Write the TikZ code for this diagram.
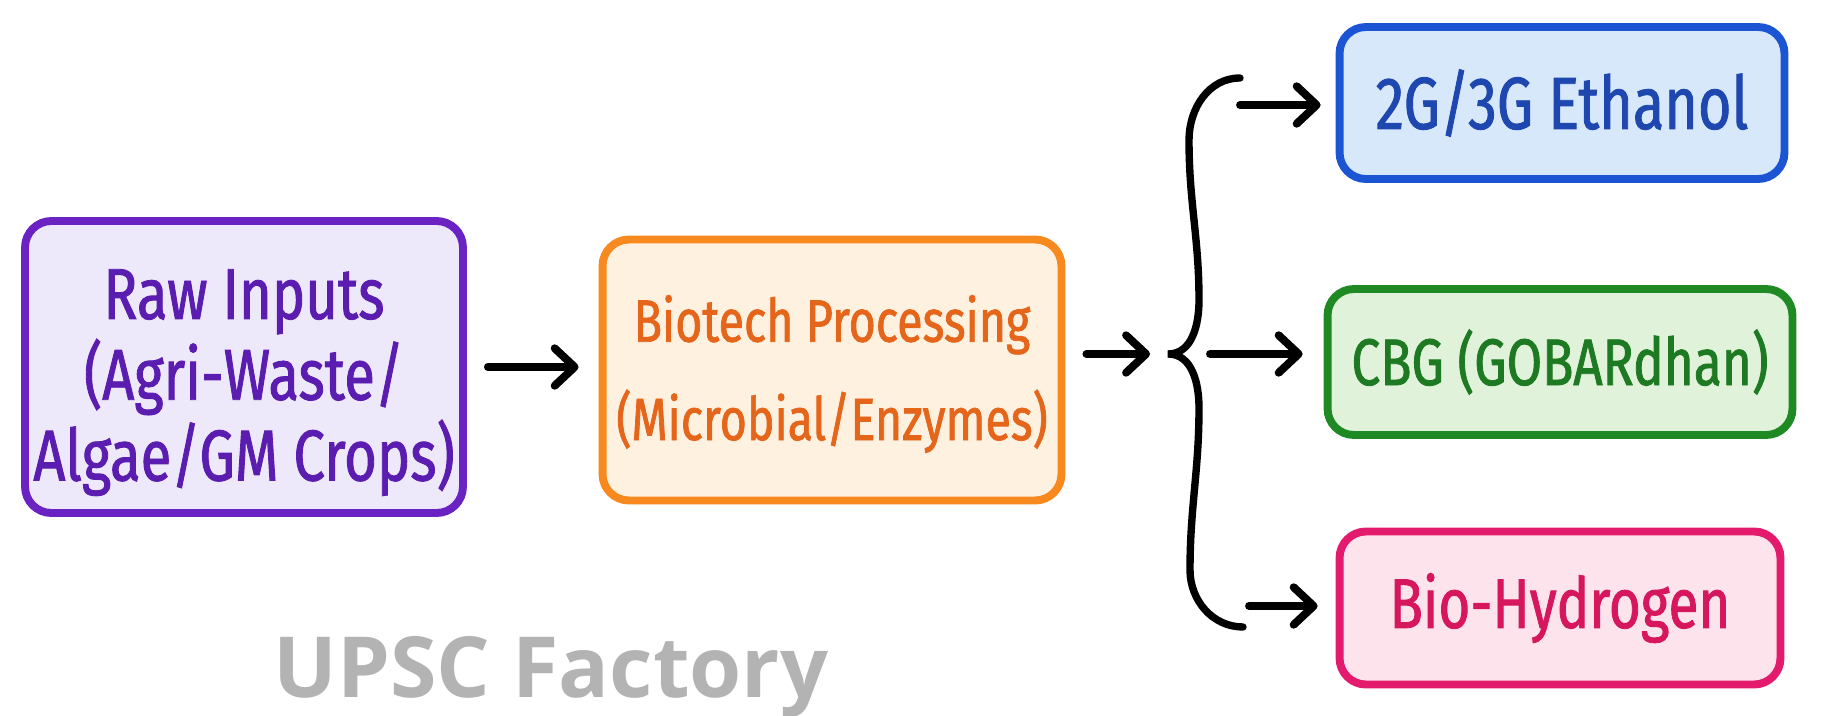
\documentclass[tikz,border=0pt]{standalone}
\usepackage{fontspec}
\usepackage{tikz}
\usetikzlibrary{arrows.meta,calc,positioning}
\newfontfamily\handfont[FakeStretch=0.78,FakeBold=1.2]{Fira Sans}
\newfontfamily\markfont{Open Sans}
\definecolor{rawline}{HTML}{6A22C2}
\definecolor{rawfill}{HTML}{EEE8FB}
\definecolor{rawtext}{HTML}{5A1DB0}
\definecolor{bioline}{HTML}{F7891F}
\definecolor{biofill}{HTML}{FFF1E0}
\definecolor{biotext}{HTML}{E5661B}
\definecolor{ethline}{HTML}{1C55D4}
\definecolor{ethfill}{HTML}{D8E8FB}
\definecolor{ethtext}{HTML}{1F47B0}
\definecolor{cbgline}{HTML}{1F8A23}
\definecolor{cbgfill}{HTML}{E0F2DA}
\definecolor{cbgtext}{HTML}{1E7A22}
\definecolor{hydline}{HTML}{E41B6C}
\definecolor{hydfill}{HTML}{FCE3EC}
\definecolor{hydtext}{HTML}{D6175D}
\definecolor{markgray}{HTML}{B3B3B3}

\begin{document}
\begin{tikzpicture}[
  x=0.02cm, y=0.02cm,
  box/.style={draw, line width=4.5pt, rounded corners=15pt, align=center, inner sep=0pt},
  rawbox/.style={box, draw=rawline, fill=rawfill, text=rawtext, minimum width=8.76cm, minimum height=5.84cm,
    font=\handfont\fontsize{41}{46}\selectfont},
  procbox/.style={box, draw=bioline, fill=biofill, text=biotext, minimum width=9.18cm, minimum height=5.22cm,
    font=\handfont\fontsize{34}{56}\selectfont},
  ethbox/.style={box, draw=ethline, fill=ethfill, text=ethtext, minimum width=8.9cm, minimum height=3.04cm,
    font=\handfont\fontsize{42}{46}\selectfont},
  cbgbox/.style={box, draw=cbgline, fill=cbgfill, text=cbgtext, minimum width=9.3cm, minimum height=2.92cm,
    font=\handfont\fontsize{37.5}{46}\selectfont},
  hydbox/.style={box, draw=hydline, fill=hydfill, text=hydtext, minimum width=8.82cm, minimum height=3.06cm,
    font=\handfont\fontsize{40}{46}\selectfont},
  arrow/.style={-{Straight Barb[length=4mm,width=7.5mm,round]}, line width=4.5pt, line cap=round, black},
  braceline/.style={line width=4.2pt, line cap=round, black},
  watermark/.style={font=\markfont\bfseries\fontsize{48}{48}\selectfont, text=markgray, inner sep=0pt}
]
\useasboundingbox[fill=white] (0,0) rectangle (1821,-716);

\node[rawbox] (inputs) at (244,-367) {\rule{0pt}{46pt}Raw Inputs\\(Agri-Waste/\\Algae/GM Crops)};
\node[procbox] (biotech) at (832,-370) {\rule{0pt}{31pt}Biotech Processing\\(Microbial/Enzymes)};
\node[ethbox] (ethanol) at (1562,-103) {2G/3G Ethanol};
\node[cbgbox] (cbg) at (1560,-362) {CBG (GOBARdhan)};
\node[hydbox] (hydrogen) at (1560,-608) {Bio-Hydrogen};
\node[watermark, anchor=base] (upsc) at (551,-697) {UPSC Factory};

\coordinate (tip) at (1168,-354);
\coordinate (btop) at (1240,-78);
\coordinate (bbot) at (1243,-627);
\coordinate (out1) at (1240,-105);
\coordinate (out2) at (1210,-354);
\coordinate (out3) at (1249,-606);

\draw[braceline] (btop) to[out=180,in=90] (1189,-140) to[out=-90,in=90] (1199,-300)
  to[out=-90,in=0] (tip) to[out=0,in=90] (1199,-408) to[out=-90,in=90] (1190,-570)
  to[out=-90,in=180] (bbot);

\draw[arrow, shorten <=0.42cm, shorten >=0.4cm] (inputs.east) -- (inputs.east -| biotech.west);
\draw[arrow, shorten <=0.42cm, shorten >=0.36cm] (biotech.east |- tip) -- (tip);
\draw[arrow, shorten >=0.3cm] (out1) -- (out1 -| ethanol.west);
\draw[arrow, shorten >=0.42cm] (out2) -- (out2 -| cbg.west);
\draw[arrow, shorten >=0.36cm] (out3) -- (out3 -| hydrogen.west);
\end{tikzpicture}
\end{document}
